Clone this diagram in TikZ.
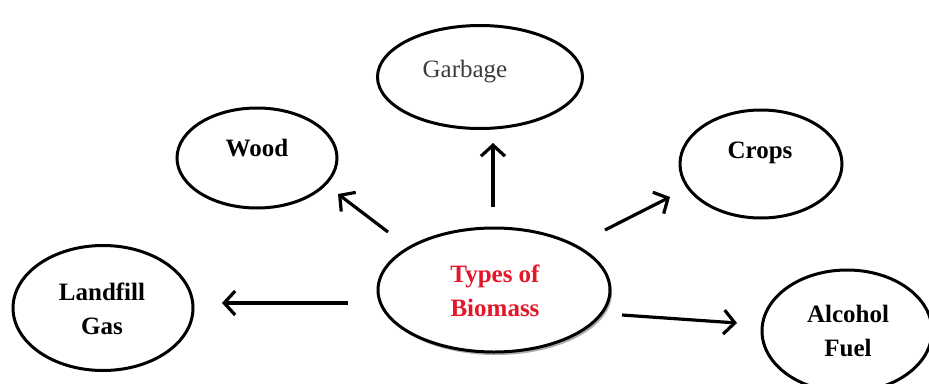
\documentclass[tikz,border=0pt]{standalone}
\usepackage{fontspec}
\setmainfont{Liberation Serif}
\usetikzlibrary{shapes.geometric,arrows.meta,shadows}
\definecolor{bioRed}{RGB}{228,22,42}
\definecolor{garbGray}{RGB}{60,60,60}
\begin{document}
\begin{tikzpicture}[x=1pt,y=-1pt,
  bub/.style={ellipse,draw=black,line width=3pt,fill=white,inner sep=0pt},
  lab/.style={font=\fontsize{25}{34}\selectfont\bfseries,align=center,inner sep=0pt},
  arr/.style={line width=3.2pt,-{Straight Barb[length=11pt,width=24pt,line width=3.2pt]}}]
\useasboundingbox (0,0) rectangle (929,383);
\clip (0,0) rectangle (929,383);
\fill[white] (0,0) rectangle (929,383);
% ellipses
\node[bub,minimum width=205,minimum height=103] (garbage) at (480,77) {};
\node[bub,minimum width=160,minimum height=100] (wood) at (257,158) {};
\node[bub,minimum width=162,minimum height=108] (crops) at (761,164) {};
\node[bub,minimum width=232,minimum height=124,
      drop shadow={shadow xshift=2pt,shadow yshift=-3pt,fill=black!55,opacity=0.6}] (biomass) at (494,290) {};
\node[bub,minimum width=180,minimum height=125] (landfill) at (103,308) {};
\node[bub,minimum width=170,minimum height=122] (alcohol) at (847,331) {};
% labels
\node[lab,font=\fontsize{25}{34}\selectfont,text=garbGray] (tgarbage) at (465,72) {Garbage};
\node[lab] (twood) at (257,148) {Wood};
\node[lab] (tcrops) at (760,153) {Crops};
\node[lab,text=bioRed] (tbiomass) at (495,291) {Types of\\Biomass};
\node[lab] (tlandfill) at (102,309) {Landfill\\Gas};
\node[lab] (talcohol) at (848,331) {Alcohol\\Fuel};
% arrow ends
\coordinate (gA) at (493,207); \coordinate (gB) at (493,143);
\coordinate (wA) at (388,232); \coordinate (wB) at (338,194);
\coordinate (cA) at (605,230); \coordinate (cB) at (670,197);
\coordinate (lA) at (348,303); \coordinate (lB) at (222,303);
\coordinate (aA) at (622,315); \coordinate (aB) at (737,323);
\draw[arr] (gA) -- (gB);
\draw[arr] (wA) -- (wB);
\draw[arr] (cA) -- (cB);
\draw[arr] (lA) -- (lB);
\draw[arr] (aA) -- (aB);
\end{tikzpicture}
\end{document}
